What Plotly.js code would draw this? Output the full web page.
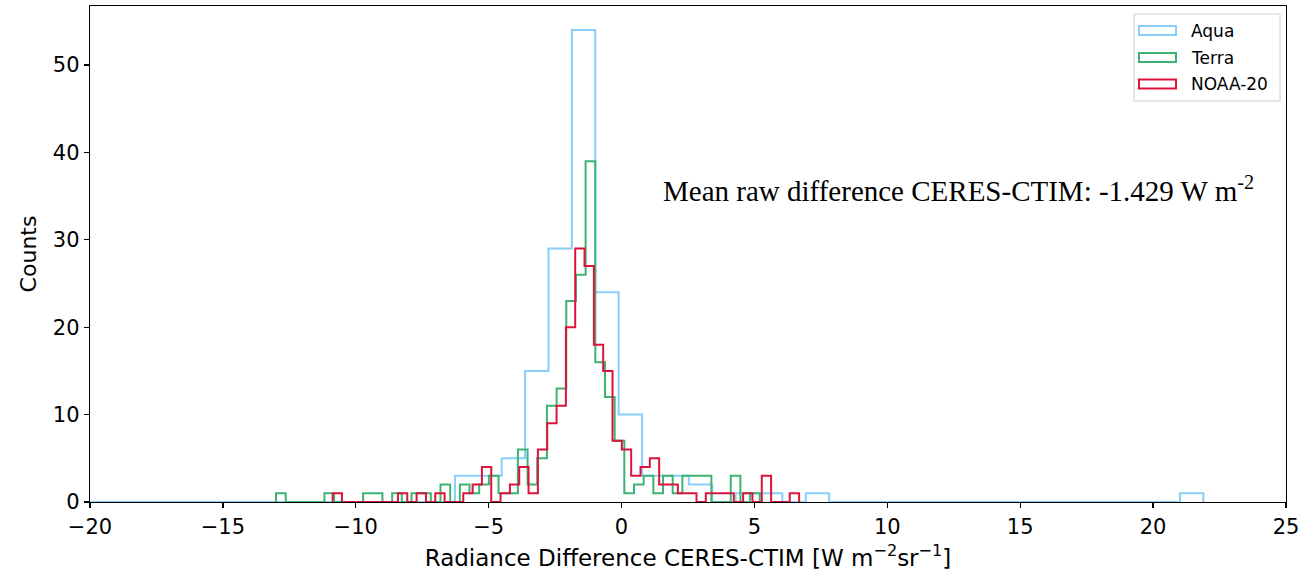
<!DOCTYPE html>
<html><head><meta charset="utf-8">
<script src="https://cdn.plot.ly/plotly-3.0.1.min.js"></script>
<style>body{margin:0;background:#fff}#chart{width:1307px;height:578px}</style>
</head><body><div id="chart"></div>
<script>
// Histogram bin definitions (start of first bin, bin width) and counts per bin
const seriesNames = ["Aqua", "Terra", "NOAA-20"];
const aquaStart = -22.11, aquaWidth = 0.88;
const aquaCounts = [1,0,0,0,0,0,0,0,0,0, 0,0,0,0,0,0,0,0,3,3, 5,15,29,54,24,10,3,3,2,0, 1,1,0,1,0,0,0,0,0,0, 0,0,0,0,0,0,0,0,0,1];
const terraStart = -13.0, terraWidth = 0.364;
const terraCounts = [1,0,0,0,0,1,0,0,0,1, 1,0,1,0,1,1,0,2,0,2, 1,2,3,1,1,6,2,5,11,13, 23,26,39,16,12,7,1,2,3,1, 3,1,3,3,3,0,0,3,0,1];
const noaaStart = -10.87, noaaWidth = 0.351;
const noaaCounts = [1,0,0,0,0,0,0,1,0,1, 0,1,0,0,1,2,4,0,1,2, 4,1,6,9,11,20,29,27,18,15, 7,6,3,4,5,2,2,1,1,0, 1,1,1,0,1,0,3,0,0,1];
const xTicks = [-20,-15,-10,-5,0,5,10,15,20,25];
const yTicks = [0,10,20,30,40,50];
const meanText = "Mean raw difference CERES-CTIM: -1.429 W m<sup>-2</sup>";

const colors = ["#87cefa", "#3cb371", "#dc143c"];

function stepOutline(start, width, counts) {
  const xs = [start], ys = [0];
  for (let i = 0; i < counts.length; i++) {
    xs.push(start + i * width); ys.push(counts[i]);
    xs.push(start + (i + 1) * width); ys.push(counts[i]);
  }
  xs.push(start + counts.length * width); ys.push(0);
  return {xs, ys};
}

const defs = [[aquaStart, aquaWidth, aquaCounts],[terraStart, terraWidth, terraCounts],[noaaStart, noaaWidth, noaaCounts]];
const traces = defs.map((d, k) => {
  const s = stepOutline(d[0], d[1], d[2]);
  return {type: "scatter", mode: "lines", x: s.xs, y: s.ys, name: seriesNames[k],
    line: {color: colors[k], width: 2}, showlegend: false, cliponaxis: true};
});

// manual matplotlib-style legend (paper coords)
const plotL = 90, plotR = 1286, plotT = 6, plotB = 502;
const px = v => (v - plotL) / (plotR - plotL);
const py = v => 1 - (v - plotT) / (plotB - plotT);
const shapes = [
  {type: "rect", xref: "paper", yref: "paper", x0: px(1134), x1: px(1280), y0: py(101), y1: py(14),
   line: {color: "#d0d0d0", width: 1}, fillcolor: "rgba(255,255,255,0.8)"}
];
const annotations = [];
const rowY = [30.5, 57.5, 84];
seriesNames.forEach((n, k) => {
  shapes.push({type: "rect", xref: "paper", yref: "paper", x0: px(1139), x1: px(1176),
    y0: py(rowY[k] + 4.5), y1: py(rowY[k] - 4.5), line: {color: colors[k], width: 2}, fillcolor: "rgba(0,0,0,0)"});
  annotations.push({xref: "paper", yref: "paper", x: px(1189), y: py(rowY[k]), xanchor: "left", yanchor: "middle",
    text: n, showarrow: false, font: {family: "DejaVu Sans", size: 17, color: "#000"}});
});
annotations.push({xref: "paper", yref: "paper", x: px(661), y: py(189), xanchor: "left", yanchor: "middle",
  text: meanText, showarrow: false, font: {family: "Liberation Serif", size: 29, color: "#000"}});

const axisCommon = {showgrid: false, zeroline: false, showline: true, mirror: true, linecolor: "#000", linewidth: 1.3,
  ticks: "outside", ticklen: 5, tickwidth: 1.3, tickcolor: "#000",
  tickfont: {family: "DejaVu Sans", size: 21, color: "#000"}};

const layout = {
  width: 1307, height: 578,
  margin: {l: plotL, r: 1307 - plotR, t: plotT, b: 578 - plotB},
  paper_bgcolor: "#fff", plot_bgcolor: "#fff",
  xaxis: Object.assign({}, axisCommon, {range: [-20, 25], tickvals: xTicks, ticktext: xTicks.map(v => v < 0 ? "\u2212" + Math.abs(v) : String(v)),
    title: {text: "Radiance Difference CERES-CTIM [W m<sup>\u22122</sup>sr<sup>\u22121</sup>]", font: {family: "DejaVu Sans", size: 23, color: "#000"}, standoff: 12}}),
  yaxis: Object.assign({}, axisCommon, {range: [0, 56.75], tickvals: yTicks,
    title: {text: "Counts", font: {family: "DejaVu Sans", size: 22, color: "#000"}, standoff: 10}}),
  shapes, annotations, showlegend: false
};
Plotly.newPlot("chart", traces, layout, {displayModeBar: false, staticPlot: true});
</script></body></html>
